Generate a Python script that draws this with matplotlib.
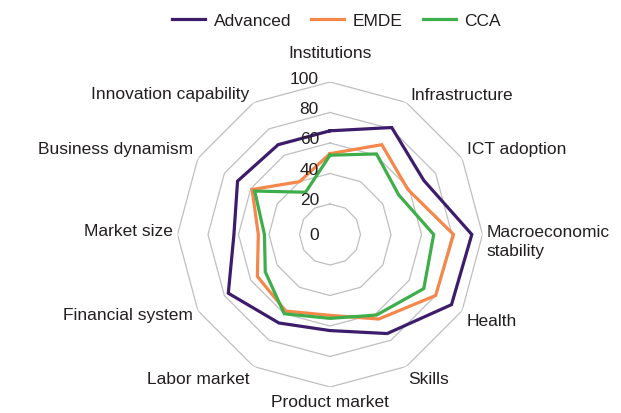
import numpy as np
import matplotlib
matplotlib.use("Agg")
import matplotlib.pyplot as plt
from matplotlib.lines import Line2D

categories = ["Institutions", "Infrastructure", "ICT adoption", "Macroeconomic\nstability",
              "Health", "Skills", "Product market", "Labor market", "Financial system",
              "Market size", "Business dynamism", "Innovation capability"]
advanced = [68, 81, 71, 93, 92, 75, 63, 67, 77, 63, 70, 68]
emde = [53, 68, 59, 81, 80, 64, 53, 58, 55, 47, 59, 40]
cca = [52, 61, 52, 68, 71, 61, 55, 60, 49, 43, 57, 32]
series_names = ["Advanced", "EMDE", "CCA"]
r_ticks = [0, 20, 40, 60, 80, 100]

colors = ["#3D1C6C", "#F5874A", "#3DAE49"]
grid_color = "#BFBFBF"
text_color = "#231F20"

plt.rcParams["font.family"] = ["Liberation Sans", "DejaVu Sans"]

W, H = 621, 414
fig = plt.figure(figsize=(W / 100, H / 100), dpi=100)
cx, cy, R = 330, 235.5, 152.5
ax = fig.add_axes([(cx - R) / W, (H - cy - R) / H, 2 * R / W, 2 * R / H], projection="polar")
ax.set_theta_zero_location("N")
ax.set_theta_direction(-1)
ax.set_ylim(0, 100)
ax.grid(False)
ax.set_xticks([])
ax.set_yticks([])
ax.spines["polar"].set_visible(False)
ax.patch.set_visible(False)

n = len(categories)
angles = np.arange(n) * 2 * np.pi / n
closed = np.append(angles, angles[0])

for v in r_ticks[1:]:
    ax.plot(closed, [v] * (n + 1), color=grid_color, lw=0.9, zorder=1)

for vals, c in zip([advanced, emde, cca], colors):
    ax.plot(closed, list(vals) + [vals[0]], color=c, lw=2.3, zorder=3,
            solid_joinstyle="miter")

for v in r_ticks:
    ax.annotate(str(v), xy=(0, v), xytext=(-11, 4 if v else 0), textcoords="offset pixels",
                ha="right", va="center", fontsize=12.5, color=text_color)

# label layout: (angle deg, radius, ha)
label_layout = [(0, 119.5, "center"), (29.7, 106, "left"), (58, 106, "left"),
                (92.4, 103, "left"), (122.3, 106, "left"), (151.6, 107.7, "left"),
                (180, 109.5, "center"), (209, 108.3, "right"), (239.9, 104, "right"),
                (271.3, 103, "right"), (302, 106, "right"), (330, 106.4, "right")]
for lab, (a, r, ha) in zip(categories, label_layout):
    ax.text(np.deg2rad(a), r, lab, ha=ha, va="center", fontsize=12.5, color=text_color,
            linespacing=1.35)

handles = [Line2D([], [], color=c, lw=2.3) for c in colors]
fig.legend(handles, series_names, loc="center", bbox_to_anchor=(336.5 / W, 1 - 21 / H),
           ncol=3, frameon=False, fontsize=12.5, handlelength=1.9, handletextpad=0.5,
           columnspacing=1.15, labelcolor=text_color)

fig.savefig("out.png", dpi=100)
